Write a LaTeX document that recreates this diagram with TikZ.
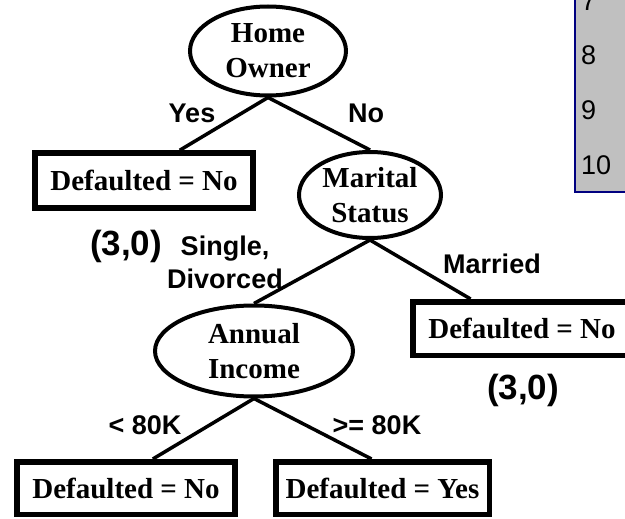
\documentclass[tikz,border=0pt]{standalone}
\usepackage{fontspec}
\setmainfont{Liberation Serif}
\setsansfont{Liberation Sans}
\usetikzlibrary{shapes.geometric,calc}

\definecolor{tablegray}{HTML}{C0C0C0}
\definecolor{tableblue}{HTML}{000080}

\tikzset{
  attr/.style={draw, ellipse, line width=4pt, inner sep=0pt, align=center,
    font=\fontsize{29}{35}\selectfont\bfseries},
  leaf/.style={draw, rectangle, line width=5.5pt, inner sep=0pt,
    font=\fontsize{29}{35}\selectfont\bfseries},
  branch/.style={inner sep=0pt, align=center,
    font=\sffamily\bfseries\fontsize{27}{33}\selectfont},
  count/.style={inner sep=0pt, font=\sffamily\bfseries\fontsize{35}{40}\selectfont},
  rownum/.style={inner sep=0pt, font=\sffamily\fontsize{27}{32}\selectfont},
  treeline/.style={line width=3.5pt},
}

\begin{document}
\begin{tikzpicture}[x=1pt,y=-1pt]

\useasboundingbox (0,0) rectangle (625,519);
\clip (0,0) rectangle (625,519);

% part of the table
\fill [tablegray] (575,-5) rectangle (630,192);
\draw [tableblue, line width=1.5pt] (575,-5) -- (575,192) -- (630,192);
\foreach \n/\y in {7/11, 8/65, 9/120, 10/175}
  \node [rownum, anchor=base west] (row\n) at (581,\y) {\n};

% tree nodes
\node [attr, minimum width=156pt, minimum height=89pt] (home) at (268,51) {Home\\Owner};
\node [leaf, minimum width=218pt, minimum height=55pt] (yesleaf) at (144,180.5) {Defaulted = No};
\node [attr, minimum width=142pt, minimum height=86pt] (marital) at (370,195) {Marital\\Status};
\node [leaf, minimum width=218pt, minimum height=53.5pt] (marriedleaf) at (522,328.5) {Defaulted = No};
\node [attr, minimum width=198pt, minimum height=91pt] (income) at (254,351) {Annual\\Income};
\node [leaf, minimum width=218pt, minimum height=52.5pt] (lowleaf) at (126,488) {Defaulted = No};
\node [leaf, minimum width=213.5pt, minimum height=52.5pt] (highleaf) at (382.5,488) {Defaulted = Yes};

% branches
\draw [treeline] (home.south) -- ($(yesleaf.north west)!0.66!(yesleaf.north east)$);
\draw [treeline] (home.south) -- (marital.north);
\draw [treeline] (marital.south) -- (income.north);
\draw [treeline] (marital.south) -- ($(marriedleaf.north west)!0.27!(marriedleaf.north east)$);
\draw [treeline] (income.south) -- ($(lowleaf.north west)!0.62!(lowleaf.north east)$);
\draw [treeline] (income.south) -- ($(highleaf.north west)!0.45!(highleaf.north east)$);

% labels
\node [branch] (yes) at (192,113) {Yes};
\node [branch] (no) at (366,113) {No};
\node [count] (yescount) at (126,246) {(3,0)};
\node [branch] (single) at (225,262) {Single,\\Divorced};
\node [branch] (married) at (492,264) {Married};
\node [count] (marriedcount) at (523,390) {(3,0)};
\node [branch] (low) at (145,425) {< 80K};
\node [branch] (high) at (377,425) {>= 80K};

\end{tikzpicture}
\end{document}
